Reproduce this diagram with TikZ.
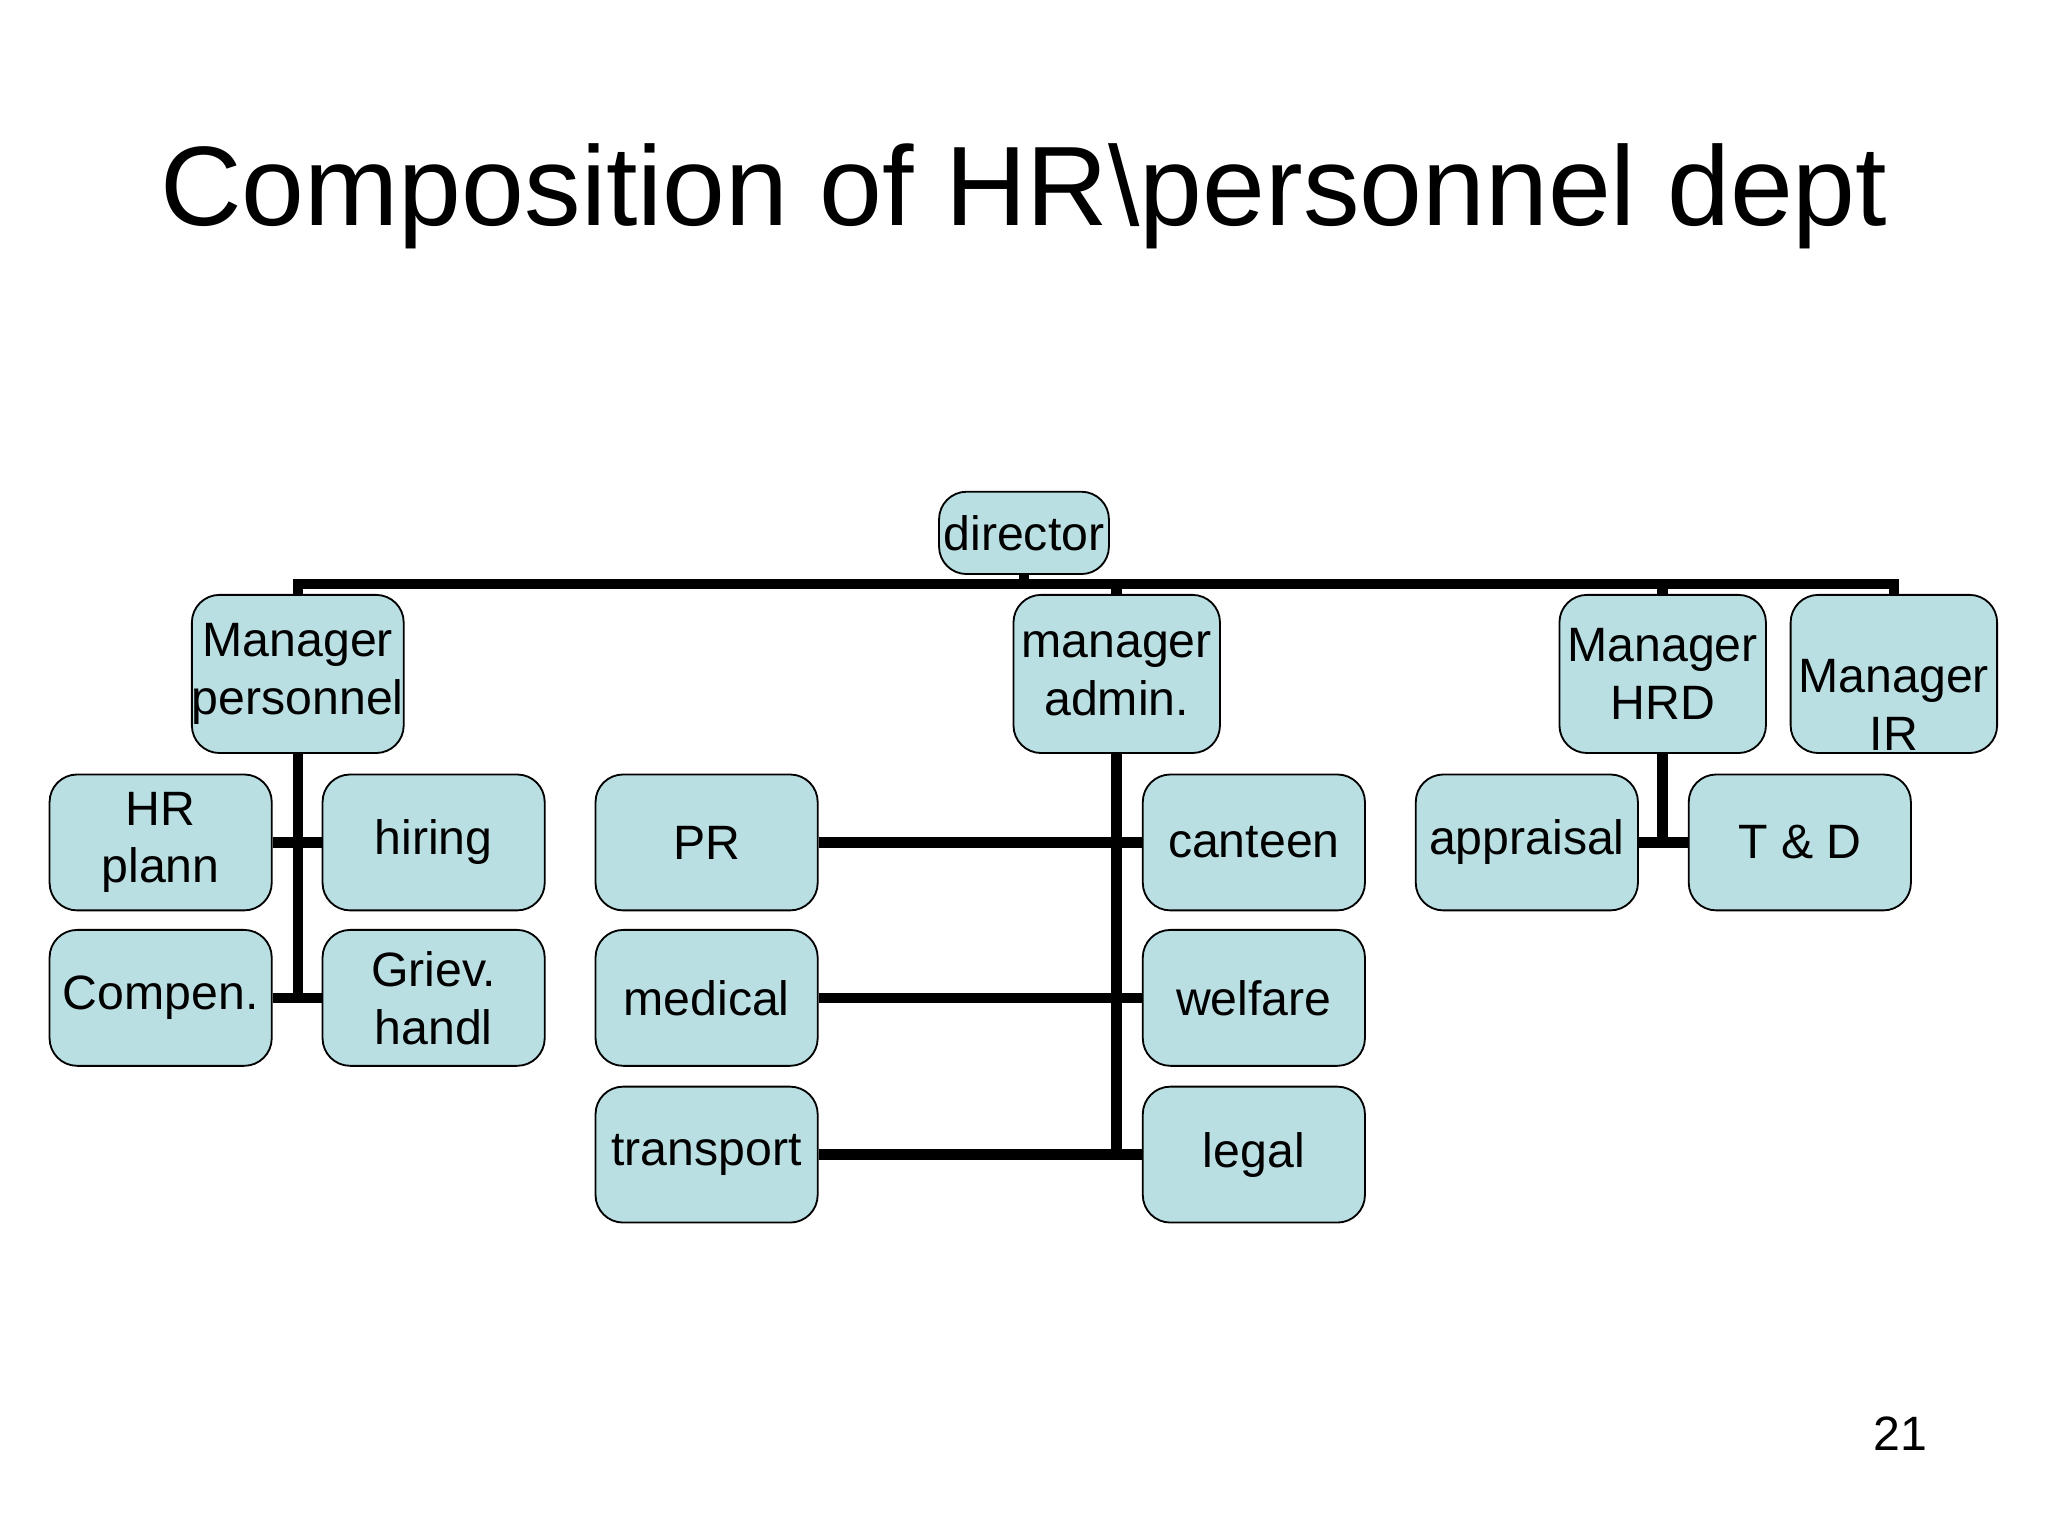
\documentclass[tikz,border=0pt]{standalone}
\usepackage{fontspec}
\setmainfont{Liberation Sans}
\begin{document}
\begin{tikzpicture}[x=0.01cm,y=-0.01cm,
	box/.style={draw=black, thin, rounded corners=6pt, fill=boxfill,
		inner sep=0pt, align=center, font=\fontsize{10.5}{12.6}\selectfont},
	mgr/.style={box, minimum width=1.58cm, minimum height=1.21cm},
	sub/.style={box, minimum width=1.70cm, minimum height=1.04cm},
	link/.style={line width=2.3pt, black}]
	\definecolor{boxfill}{HTML}{BADFE2}
	\useasboundingbox[fill=white] (0,0) rectangle (1568,1176);
	\node[font=\fontsize{24.6}{28}\selectfont] (title) at (784,150) {Composition of HR\textbackslash personnel dept};

	\node[box, minimum width=1.30cm, minimum height=0.63cm] (dir) at (784,408) {director};
	\node[mgr] (pers) at (228,516) {Manager\\personnel};
	\node[mgr] (adm) at (855,516) {manager\\admin.};
	\node[mgr] (hrd) at (1273,516) {Manager\\HRD};
	\node[mgr] (ir) at (1450,516) {};
	\node[box, draw=none, fill=none] (irt) at (1450,540) {Manager\\IR};

	\node[sub] (hrp) at (123,645) {HR\\plann};
	\node[sub] (hir) at (332,645) {hiring};
	\node[sub] (com) at (123,764) {Compen.};
	\node[sub] (grv) at (332,764) {Griev.\\handl};

	\node[sub] (pr) at (541,645) {PR};
	\node[sub] (med) at (541,764) {medical};
	\node[sub] (trn) at (541,884) {transport};
	\node[sub] (can) at (960,645) {canteen};
	\node[sub] (wel) at (960,764) {welfare};
	\node[sub] (leg) at (960,884) {legal};

	\node[sub] (apr) at (1169,645) {appraisal};
	\node[sub] (td) at (1378,645) {T \& D};

	\node[font=\fontsize{10.5}{12}\selectfont] (pg) at (1455,1098) {21};

	% connectors
	\coordinate (bus) at (784,447);
	\draw[link] (dir.south) -- (bus);
	\draw[link] (pers.north) |- (bus) -| (ir.north);
	\draw[link] (adm.north) -- (adm.north |- bus);
	\draw[link] (hrd.north) -- (hrd.north |- bus);
	\draw[link] (pers.south) -- (pers.south |- com.east);
	\draw[link] (hrp.east) -- (hir.west);
	\draw[link] (com.east) -- (grv.west);
	\draw[link] (adm.south) -- (adm.south |- trn.east);
	\draw[link] (pr.east) -- (can.west);
	\draw[link] (med.east) -- (wel.west);
	\draw[link] (trn.east) -- (leg.west);
	\draw[link] (hrd.south) -- (hrd.south |- apr.east);
	\draw[link] (apr.east) -- (td.west);
\end{tikzpicture}
\end{document}
